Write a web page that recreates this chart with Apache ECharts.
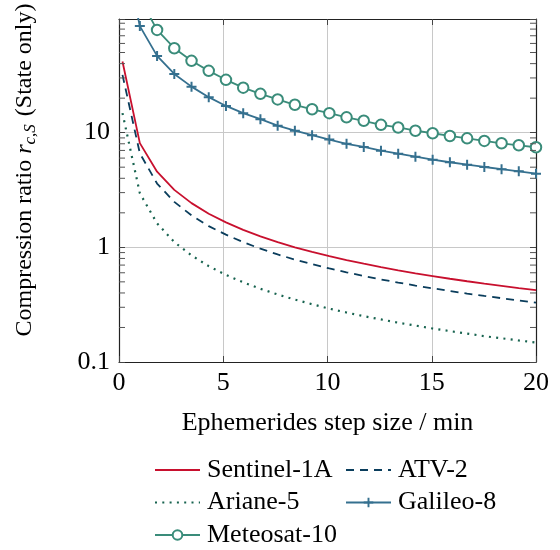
<!DOCTYPE html>
<html>
<head>
<meta charset="utf-8">
<script src="https://cdn.jsdelivr.net/npm/echarts@6/dist/echarts.min.js"></script>
<style>
html,body{margin:0;padding:0;background:#fff;}
#chart{width:560px;height:550px;}
</style>
</head>
<body>
<div id="chart"></div>
<script>
// Ephemerides step size in minutes
const xSteps = [0.167, 1.0, 1.826, 2.652, 3.478, 4.304, 5.130, 5.957, 6.783, 7.609, 8.435, 9.261, 10.087, 10.913, 11.739, 12.565, 13.391, 14.217, 15.043, 15.870, 16.696, 17.522, 18.348, 19.174, 20.0];

const sentinel1A = [41.7, 8.1, 4.57, 3.17, 2.43, 1.96, 1.65, 1.42, 1.245, 1.11, 1.00, 0.912, 0.838, 0.774, 0.720, 0.672, 0.631, 0.594, 0.562, 0.532, 0.506, 0.482, 0.461, 0.441, 0.423];
const atv2 = [31.9, 6.6, 3.6, 2.49, 1.90, 1.53, 1.29, 1.11, 0.973, 0.867, 0.782, 0.713, 0.654, 0.605, 0.562, 0.525, 0.493, 0.464, 0.439, 0.416, 0.395, 0.377, 0.360, 0.344, 0.330];
const ariane5 = [14.8, 2.96, 1.62, 1.11, 0.85, 0.685, 0.575, 0.495, 0.435, 0.388, 0.350, 0.319, 0.292, 0.270, 0.251, 0.235, 0.220, 0.208, 0.196, 0.186, 0.177, 0.168, 0.161, 0.154, 0.148];
const galileo8 = [430, 85, 46.7, 32.5, 25.2, 20.4, 17.1, 14.8, 13.1, 11.5, 10.4, 9.5, 8.7, 8.0, 7.5, 6.96, 6.56, 6.18, 5.81, 5.52, 5.26, 5.02, 4.80, 4.60, 4.39];
const meteosat10 = [740, 148, 78.7, 54.5, 42.3, 34.6, 28.9, 24.7, 21.8, 19.5, 17.5, 16.0, 14.8, 13.6, 12.7, 11.7, 11.1, 10.4, 9.88, 9.36, 8.93, 8.47, 8.08, 7.76, 7.46];

const seriesNames = ['Sentinel-1A', 'ATV-2', 'Ariane-5', 'Galileo-8', 'Meteosat-10'];

const xTickValues = [0, 5, 10, 15, 20];
const xTickLabels = ['0', '5', '10', '15', '20'];
const yTickValues = [0.1, 1, 10];
const yTickLabels = ['0.1', '1', '10'];
const yMinorTickValues = [0.2, 0.3, 0.4, 0.5, 0.6, 0.7, 0.8, 0.9, 2, 3, 4, 5, 6, 7, 8, 9, 20, 30, 40, 50, 60, 70, 80, 90];

const X_MIN = 0, X_MAX = 20, Y_MIN = 0.1, Y_MAX = 98;
const FONT = '"Liberation Serif", "Times New Roman", serif';
const FRAME = '#222';

function pairs(ys) { return xSteps.map((x, i) => [x, ys[i]]); }

function xLabel(v) {
  const i = xTickValues.findIndex(t => Math.abs(t - v) < 1e-6);
  return i >= 0 ? xTickLabels[i] : '';
}
function yLabel(v) {
  const i = yTickValues.findIndex(t => Math.abs(Math.log10(t) - Math.log10(v)) < 1e-6);
  return i >= 0 ? yTickLabels[i] : '';
}

const plusPath = 'path://M4,0 H6 V4 H10 V6 H6 V10 H4 V6 H0 V4 H4 Z';

const chart = echarts.init(document.getElementById('chart'), null, {renderer: 'canvas'});

const option = {
  animation: false,
  backgroundColor: '#fff',
  grid: {left: 119, right: 24, top: 19, bottom: 188, containLabel: false, outerBoundsMode: 'none'},
  xAxis: [{
    type: 'value', min: X_MIN, max: X_MAX, interval: 5,
    axisLine: {show: true, onZero: false, lineStyle: {color: FRAME, width: 1.2}},
    axisTick: {show: true, inside: true, length: 6, lineStyle: {color: '#444'}},
    axisLabel: {formatter: xLabel, fontFamily: FONT, fontSize: 26, color: '#000', margin: 8},
    splitLine: {show: true, lineStyle: {color: '#c8c8c8', width: 1}},
    name: 'Ephemerides step size / min',
    nameLocation: 'middle', nameGap: 48,
    nameTextStyle: {fontFamily: FONT, fontSize: 26, color: '#000'}
  }, {
    type: 'value', min: X_MIN, max: X_MAX, interval: 5, position: 'top',
    axisLine: {show: true, onZero: false, lineStyle: {color: FRAME, width: 1.2}},
    axisTick: {show: true, inside: true, length: 6, lineStyle: {color: '#444'}},
    axisLabel: {show: false},
    splitLine: {show: false}
  }],
  yAxis: [{
    type: 'log', logBase: 10, min: Y_MIN, max: Y_MAX,
    axisLine: {show: true, onZero: false, lineStyle: {color: FRAME, width: 1.2}},
    axisTick: {show: true, inside: true, length: 6, lineStyle: {color: '#444'}},
    axisLabel: {formatter: yLabel, fontFamily: FONT, fontSize: 26, color: '#000', margin: 9},
    splitLine: {show: true, lineStyle: {color: '#c8c8c8', width: 1}}
  }, {
    type: 'log', logBase: 10, min: Y_MIN, max: Y_MAX, position: 'right',
    axisLine: {show: true, onZero: false, lineStyle: {color: FRAME, width: 1.2}},
    axisTick: {show: true, inside: true, length: 6, lineStyle: {color: '#444'}},
    axisLabel: {show: false},
    splitLine: {show: false}
  }],
  graphic: [{
    type: 'text', x: 25, y: 170, rotation: Math.PI / 2, silent: true,
    style: {
      text: '{a|Compression ratio }{i|r}{s|c,S}{a|(State only)}',
      align: 'center', verticalAlign: 'middle',
      rich: {
        a: {fontFamily: FONT, fontSize: 24, fill: '#000', lineHeight: 28},
        i: {fontFamily: FONT, fontSize: 24, fontStyle: 'italic', fill: '#000', lineHeight: 28},
        s: {fontFamily: FONT, fontSize: 17, fontStyle: 'italic', fill: '#000', lineHeight: 12, verticalAlign: 'bottom', padding: [0, 8, 0, 0]}
      }
    }
  }],
  legend: [{
    orient: 'vertical', left: 154, top: 457, padding: 0,
    itemWidth: 45, itemHeight: 12, itemGap: 6.5,
    data: [
      {name: seriesNames[0], itemStyle: {opacity: 0}},
      {name: seriesNames[2], itemStyle: {opacity: 0}},
      {name: seriesNames[4]}
    ],
    textStyle: {fontFamily: FONT, fontSize: 26, color: '#000', padding: [0, 0, 0, 2]}
  }, {
    orient: 'vertical', left: 345, top: 457, padding: 0,
    itemWidth: 45, itemHeight: 12, itemGap: 6.5,
    data: [
      {name: seriesNames[1], itemStyle: {opacity: 0}},
      {name: seriesNames[3]}
    ],
    textStyle: {fontFamily: FONT, fontSize: 26, color: '#000', padding: [0, 0, 0, 2]}
  }],
  series: [{
    name: seriesNames[0], type: 'line', data: pairs(sentinel1A),
    symbol: 'none', color: '#c8102e',
    lineStyle: {width: 1.8, color: '#c8102e'}
  }, {
    name: seriesNames[1], type: 'line', data: pairs(atv2),
    symbol: 'none', color: '#0a3d5c',
    lineStyle: {width: 1.8, color: '#0a3d5c', type: [8, 6]}
  }, {
    name: seriesNames[2], type: 'line', data: pairs(ariane5),
    symbol: 'none', color: '#1b6b5b',
    lineStyle: {width: 2.2, color: '#17634f', type: [2, 5.3]}
  }, {
    name: seriesNames[3], type: 'line', data: pairs(galileo8),
    symbol: plusPath, symbolSize: 10, color: '#35708f',
    itemStyle: {color: '#35708f'},
    lineStyle: {width: 1.8, color: '#35708f'}
  }, {
    name: seriesNames[4], type: 'line', data: pairs(meteosat10),
    symbol: 'emptyCircle', symbolSize: 10.5, color: '#3a8c7a',
    itemStyle: {color: '#3a8c7a', borderColor: '#3a8c7a', borderWidth: 1.6},
    lineStyle: {width: 1.8, color: '#3a8c7a'}
  }, {
    name: 'minorTicks', type: 'custom', silent: true, z: 5,
    data: yMinorTickValues.map(v => [X_MIN, v]),
    renderItem: function (params, api) {
      const v = api.value(1);
      const pl = api.coord([X_MIN, v]);
      const pr = api.coord([X_MAX, v]);
      const st = {stroke: '#555', lineWidth: 1};
      return {
        type: 'group',
        children: [
          {type: 'line', shape: {x1: pl[0], y1: pl[1], x2: pl[0] + 6, y2: pl[1]}, style: st},
          {type: 'line', shape: {x1: pr[0] - 6, y1: pr[1], x2: pr[0], y2: pr[1]}, style: st}
        ]
      };
    }
  }]
};
chart.setOption(option);
</script>
</body>
</html>
